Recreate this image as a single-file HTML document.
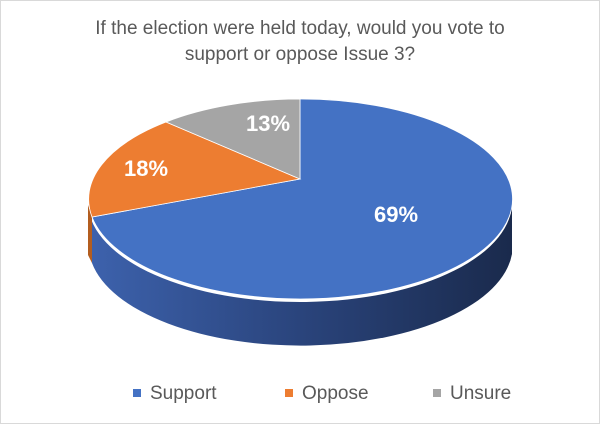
<!DOCTYPE html>
<html><head><meta charset="utf-8"><style>
html,body{margin:0;padding:0;background:#fff;}
svg{display:block;}
</style></head><body>
<svg width="600" height="424" viewBox="0 0 600 424" xmlns="http://www.w3.org/2000/svg">
<defs>
<linearGradient id="side" x1="0" x2="1" y1="0" y2="0">
<stop offset="0" stop-color="#3d62ad"/>
<stop offset="0.5" stop-color="#2a447c"/>
<stop offset="1" stop-color="#1a2a4c"/>
</linearGradient>
</defs>
<rect x="0.5" y="0.5" width="599" height="423" fill="#fff" stroke="#d9d9d9"/>
<g font-family="'Liberation Sans', sans-serif" fill="#595959" font-size="19" text-anchor="middle">
<text x="300" y="34">If the election were held today, would you vote to</text>
<text x="300" y="60">support or oppose Issue 3?</text>
</g>
<path d="M88,205 A212,100 0 0 0 512,199 L512,254 A212,100 0 0 1 92,263 Z" fill="url(#side)"/>
<path d="M88,205 L92,217 L92,263 L88,255 Z" fill="#b35d1f"/>
<path d="M300,179 L300,99 A212,100 0 1 1 92,217 Z" fill="#4472c4" stroke="#fff" stroke-width="0.8"/>
<path d="M300,179 L92,217 A212,100 0 0 1 166,122 Z" fill="#ed7d31" stroke="#fff" stroke-width="0.8"/>
<path d="M300,179 L166,122 A212,100 0 0 1 300,99 Z" fill="#a5a5a5" stroke="#fff" stroke-width="0.8"/>
<g font-family="'Liberation Sans', sans-serif" fill="#fff" font-size="22" font-weight="bold" text-anchor="middle">
<text x="396" y="222">69%</text>
<text x="146" y="176">18%</text>
<text x="268" y="131">13%</text>
</g>
<g font-family="'Liberation Sans', sans-serif" fill="#595959" font-size="19">
<rect x="133" y="389" width="8" height="8" fill="#4472c4"/>
<text x="150" y="399">Support</text>
<rect x="285" y="389" width="8" height="8" fill="#ed7d31"/>
<text x="302" y="399">Oppose</text>
<rect x="433" y="389" width="8" height="8" fill="#a5a5a5"/>
<text x="450" y="399">Unsure</text>
</g>
</svg>
</body></html>
